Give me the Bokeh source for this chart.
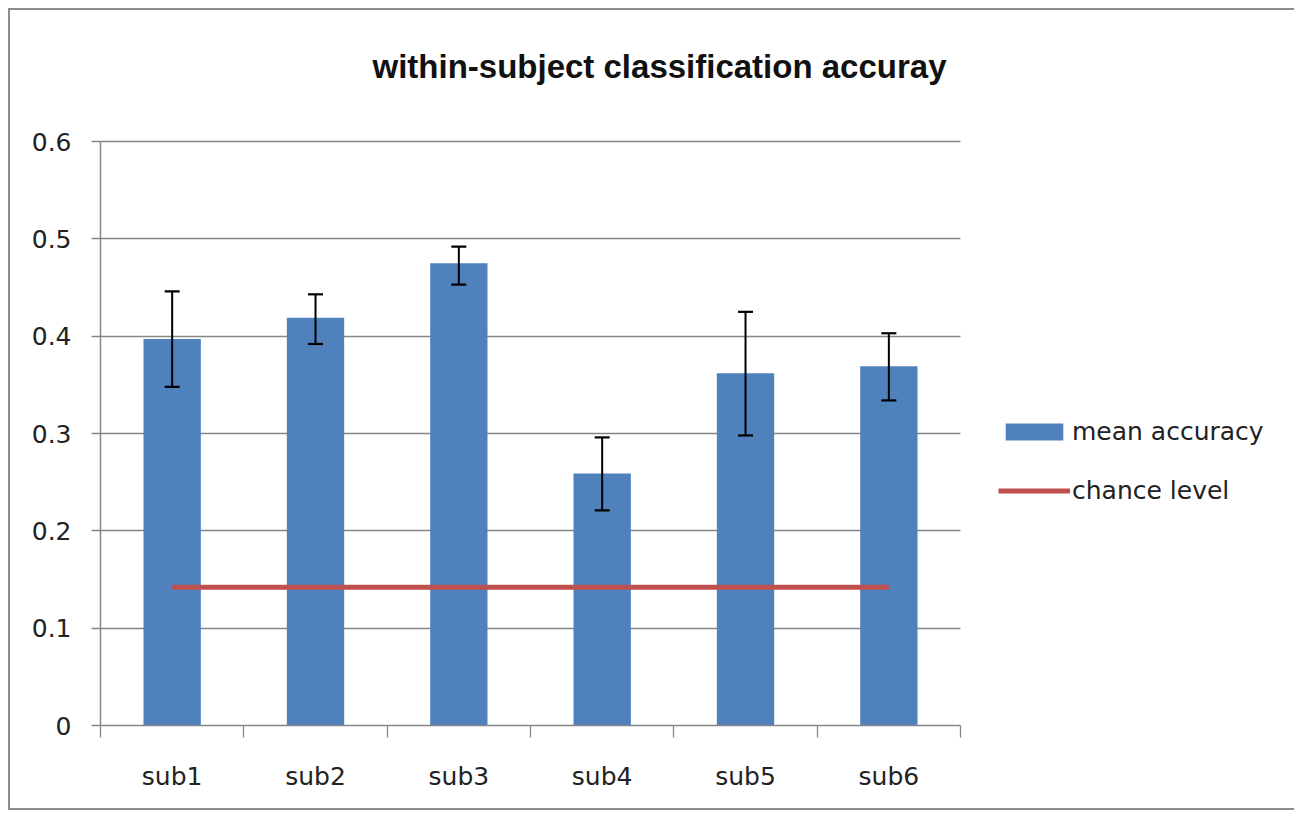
from bokeh.plotting import figure
from bokeh.models import (ColumnDataSource, Whisker, TeeHead, FixedTicker, Legend,
                          LegendItem, Range1d, Label)
from bokeh.embed import file_html
from bokeh.resources import INLINE

subjects = ["sub1", "sub2", "sub3", "sub4", "sub5", "sub6"]
mean_accuracy = [0.397, 0.419, 0.475, 0.259, 0.362, 0.369]
err_upper = [0.446, 0.443, 0.492, 0.296, 0.425, 0.403]
err_lower = [0.348, 0.392, 0.453, 0.221, 0.298, 0.334]
chance_level = [0.142, 0.142, 0.142, 0.142, 0.142, 0.142]
y_ticks = [0, 0.1, 0.2, 0.3, 0.4, 0.5, 0.6]
y_tick_labels = ["0", "0.1", "0.2", "0.3", "0.4", "0.5", "0.6"]
title_text = "within-subject classification accuray"

n = len(subjects)
xpos = [i + 0.5 for i in range(n)]
bounds = [i for i in range(n + 1)]

src = ColumnDataSource(dict(x=xpos, mean=mean_accuracy, upper=err_upper,
                            lower=err_lower, chance=chance_level))

GRAY = "#868686"
TXT = "#222222"
FONT = "DejaVu Sans"

# frame covers the whole chart area right of the y axis; axes and grid are bounded
p = figure(width=1286, height=802, x_range=Range1d(0, 8.344),
           y_range=Range1d(0, 0.7346), output_backend="svg", toolbar_location=None,
           min_border_left=90, min_border_right=0, min_border_top=0,
           min_border_bottom=87)
p.styles = {"margin-left": "8px", "margin-top": "8px",
            "border-left": "2px solid #8c8c8c", "border-top": "2px solid #8c8c8c",
            "border-bottom": "2px solid #8c8c8c"}
p.outline_line_color = None
p.background_fill_color = "white"
p.border_fill_color = "white"

bars = p.vbar(x="x", top="mean", width=0.4, source=src, fill_color="#4F81BD",
              line_color=None)
chance = p.line(x="x", y="chance", source=src, line_color="#C0504D", line_width=5)

wh = Whisker(source=src, base="x", upper="upper", lower="lower",
             line_color="black", line_width=2, level="overlay",
             upper_head=TeeHead(size=15, line_color="black", line_width=2.2),
             lower_head=TeeHead(size=15, line_color="black", line_width=2.2))
p.add_layout(wh)

# x axis
xa = p.xaxis[0]
xa.bounds = (0, n)
xa.ticker = FixedTicker(ticks=xpos, minor_ticks=bounds)
xa.major_label_overrides = {xv: s for xv, s in zip(xpos, subjects)}
xa.major_tick_line_color = None
xa.major_tick_out = 0
xa.major_tick_in = 0
xa.minor_tick_line_color = GRAY
xa.minor_tick_line_width = 1.3
xa.minor_tick_out = 12
xa.minor_tick_in = 0
xa.axis_line_color = GRAY
xa.axis_line_width = 1.5
xa.major_label_text_font = FONT
xa.major_label_text_font_size = "25px"
xa.major_label_text_color = TXT
xa.major_label_standoff = 24

# y axis
ya = p.yaxis[0]
ya.bounds = (0, 0.6)
ya.ticker = FixedTicker(ticks=y_ticks)
ya.major_label_overrides = {t: l for t, l in zip(y_ticks, y_tick_labels)}
ya.major_tick_line_color = GRAY
ya.major_tick_line_width = 1.3
ya.major_tick_out = 9
ya.major_tick_in = 0
ya.minor_tick_line_color = None
ya.axis_line_color = GRAY
ya.axis_line_width = 1.5
ya.major_label_text_font = FONT
ya.major_label_text_font_size = "25px"
ya.major_label_text_color = TXT
ya.major_label_standoff = 20

p.xgrid.visible = False
p.ygrid.grid_line_color = GRAY
p.ygrid.grid_line_width = 1.3
p.ygrid.cross_bounds = (0, n)

title = Label(x=3.90, y=0.677, text=title_text, text_align="center",
              text_baseline="alphabetic", text_font="Liberation Sans",
              text_font_style="bold", text_font_size="33px", text_color="#111111")
p.add_layout(title)

legend = Legend(items=[LegendItem(label="mean accuracy", renderers=[bars]),
                       LegendItem(label="chance level", renderers=[chance])],
                location=(898, 220), glyph_width=72, glyph_height=21,
                label_text_font=FONT, label_text_font_size="25px",
                label_text_color=TXT, label_standoff=2, spacing=30, padding=0,
                margin=0, border_line_color=None, background_fill_alpha=0)
p.add_layout(legend)

open("out.html", "w").write(file_html(p, INLINE))
